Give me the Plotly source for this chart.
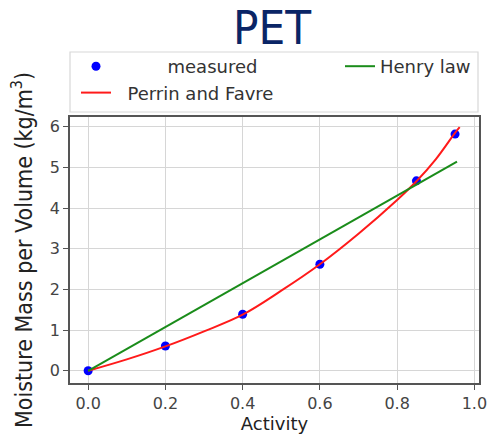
import plotly.graph_objects as go

# measured data
act_measured = [0.0, 0.2, 0.4, 0.6, 0.85, 0.95]
mass_measured = [0.0, 0.61, 1.39, 2.62, 4.67, 5.82]

# Perrin and Favre model curve
act_perrin = [0.0, 0.1, 0.2, 0.3, 0.4, 0.5, 0.6, 0.7, 0.8, 0.85, 0.9, 0.95, 0.962]
mass_perrin = [0.0, 0.28, 0.6, 0.97, 1.38, 1.97, 2.62, 3.37, 4.2, 4.66, 5.2, 5.85, 5.99]

# Henry law line
act_henry = [0.0, 0.955]
mass_henry = [0.0, 5.14]

x_ticks = [0.0, 0.2, 0.4, 0.6, 0.8, 1.0]
x_ticklabels = ["0.0", "0.2", "0.4", "0.6", "0.8", "1.0"]
y_ticks = [0, 1, 2, 3, 4, 5, 6]

FONT = "DejaVu Sans"
COND = "DejaVu Sans Condensed, DejaVu Sans"
W, H = 492, 435
ML, MR, MT, MB = 70, 13, 117, 52
PW = W - ML - MR
PH = H - MT - MB
NB = "\u00a0"


def px_x(p):
    return (p - ML) / PW


def px_y(p):
    return 1 - (p - MT) / PH


fig = go.Figure()
fig.add_trace(go.Scatter(
    x=act_measured, y=mass_measured, mode="markers",
    name=NB * 9 + "measured",
    marker=dict(color="#0000ff", size=9),
    legend="legend",
))
fig.add_trace(go.Scatter(
    x=act_perrin, y=mass_perrin, mode="lines", line_shape="spline",
    name=NB * 2 + "Perrin and Favre",
    line=dict(color="#ff1a1a", width=2),
    legend="legend",
))
fig.add_trace(go.Scatter(
    x=act_henry, y=mass_henry, mode="lines",
    name="Henry law",
    line=dict(color="#1a8c1a", width=2),
    legend="legend2",
))

axis_common = dict(
    showline=True, linecolor="#555555", linewidth=1.5, mirror=True,
    showgrid=True, gridcolor="#d6d6d6", gridwidth=1,
    ticks="outside", ticklen=5, tickcolor="#555555", tickwidth=1.2,
    tickfont=dict(family=FONT, size=16, color="#444444"),
    zeroline=False, automargin=False,
)

fig.update_layout(
    width=W, height=H,
    margin=dict(l=ML, r=MR, t=MT, b=MB),
    paper_bgcolor="white", plot_bgcolor="white",
    title=dict(
        text="PET", x=px_x(272), xanchor="center", xref="paper",
        y=1 - 27.5 / H, yanchor="middle", yref="container",
        font=dict(family="DejaVu Sans Condensed, Liberation Sans", size=47, color="#0a2566"),
    ),
    xaxis=dict(
        range=[-0.047, 1.012], tickvals=x_ticks, ticktext=x_ticklabels,
        title=dict(text="Activity", font=dict(family=FONT, size=18, color="#222222"), standoff=4),
        **axis_common,
    ),
    yaxis=dict(
        range=[-0.30, 6.24], tickvals=y_ticks,
        title=dict(text=NB * 3 + "Moisture Mass per Volume (kg/m<sup>3</sup>)",
                   font=dict(family=COND, size=23, color="#222222"), standoff=11),
        **axis_common,
    ),
    legend=dict(
        x=px_x(76), xanchor="left", y=px_y(48), yanchor="top",
        orientation="v", bgcolor="rgba(0,0,0,0)", borderwidth=0,
        font=dict(family=FONT, size=18, color="#333333"),
        tracegroupgap=0,
    ),
    legend2=dict(
        x=px_x(340), xanchor="left", y=px_y(48), yanchor="top",
        orientation="v", bgcolor="rgba(0,0,0,0)", borderwidth=0,
        font=dict(family=FONT, size=18, color="#333333"),
    ),
    showlegend=True,
    shapes=[dict(
        type="rect", xref="paper", yref="paper",
        x0=px_x(70), x1=px_x(478), y0=px_y(112), y1=px_y(52),
        line=dict(color="#d8d8d8", width=1.2), fillcolor="white", layer="below",
    )],
)

fig.write_html("out.html")
